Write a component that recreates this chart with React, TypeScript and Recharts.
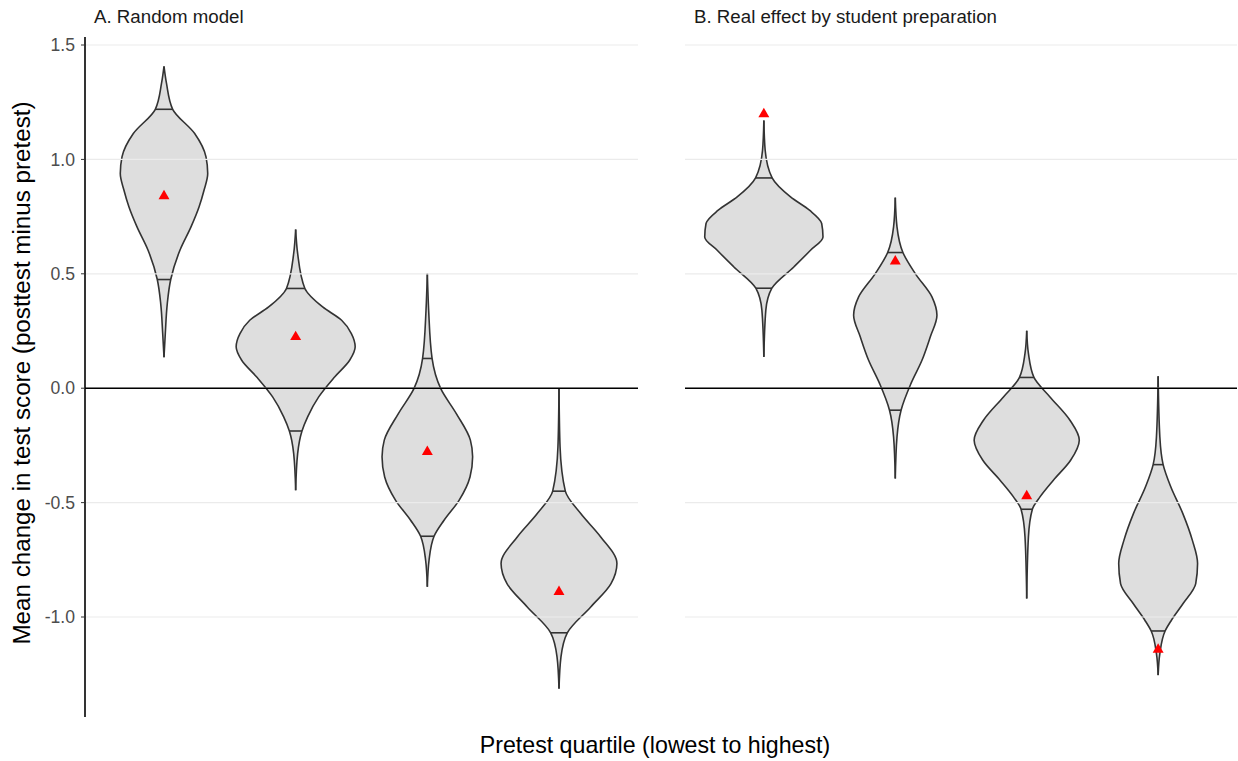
import React from "react"
import { ComposedChart, Area, Scatter, XAxis, YAxis, ZAxis, ReferenceLine } from "recharts"

const quartiles = [1, 2, 3, 4]
const yTicks = [-1, -0.5, 0, 0.5, 1, 1.5]

// violin outlines: [score change, half width in quartile units]
const randomQ1 = [[1.407, 0], [1.332, 0.019], [1.219, 0.066], [1.113, 0.233], [1.011, 0.319], [0.938, 0.332], [0.865, 0.304], [0.792, 0.266], [0.705, 0.205], [0.603, 0.121], [0.475, 0.051], [0.37, 0.025], [0.24, 0.01], [0.135, 0]]
const randomQ2 = [[0.694, 0], [0.589, 0.015], [0.436, 0.07], [0.355, 0.205], [0.297, 0.349], [0.239, 0.423], [0.181, 0.452], [0.122, 0.41], [0.049, 0.296], [-0.038, 0.175], [-0.125, 0.091], [-0.187, 0.048], [-0.286, 0.015], [-0.446, 0]]
const randomQ3 = [[0.501, 0], [0.341, 0.01], [0.13, 0.036], [-0.001, 0.101], [-0.111, 0.22], [-0.227, 0.327], [-0.3, 0.344], [-0.388, 0.324], [-0.49, 0.241], [-0.577, 0.127], [-0.647, 0.051], [-0.752, 0.013], [-0.868, 0]]
const randomQ4 = [[-0.003, 0], [-0.256, 0.008], [-0.45, 0.048], [-0.548, 0.165], [-0.65, 0.317], [-0.766, 0.44], [-0.854, 0.395], [-0.956, 0.241], [-1.069, 0.063], [-1.174, 0.015], [-1.313, 0]]

const realQ1 = [[1.17, 0], [1.04, 0.01], [0.919, 0.063], [0.836, 0.203], [0.778, 0.347], [0.72, 0.44], [0.661, 0.45], [0.603, 0.355], [0.53, 0.228], [0.437, 0.061], [0.341, 0.015], [0.137, 0]]
const realQ2 = [[0.833, 0], [0.705, 0.013], [0.593, 0.058], [0.501, 0.152], [0.399, 0.279], [0.319, 0.317], [0.224, 0.266], [0.122, 0.203], [0.02, 0.119], [-0.096, 0.044], [-0.213, 0.013], [-0.395, 0]]
const realQ3 = [[0.251, 0], [0.152, 0.013], [0.047, 0.055], [-0.038, 0.177], [-0.14, 0.329], [-0.227, 0.4], [-0.315, 0.334], [-0.402, 0.203], [-0.475, 0.101], [-0.529, 0.043], [-0.65, 0.013], [-0.919, 0]]
const realQ4 = [[0.052, 0], [-0.213, 0.013], [-0.334, 0.038], [-0.431, 0.096], [-0.548, 0.188], [-0.664, 0.26], [-0.766, 0.3], [-0.854, 0.286], [-0.941, 0.19], [-1.014, 0.101], [-1.061, 0.053], [-1.16, 0.013], [-1.254, 0]]

// quantile lines drawn inside each violin: [score, half width]
const randomQuantiles = [[[1.219, 0.066], [0.475, 0.051]], [[0.436, 0.07], [-0.187, 0.048]], [[0.13, 0.036], [-0.647, 0.051]], [[-0.45, 0.048], [-1.069, 0.063]]]
const realQuantiles = [[[0.919, 0.063], [0.437, 0.061]], [[0.593, 0.058], [-0.096, 0.044]], [[0.047, 0.055], [-0.529, 0.043]], [[-0.334, 0.038], [-1.061, 0.053]]]

// observed change (red triangles)
const randomObserved = [0.84, 0.224, -0.278, -0.89]
const realObserved = [1.198, 0.555, -0.471, -1.142]

const font = '"Liberation Sans", Arial, sans-serif'

function buildRows(profiles: number[][][]) {
  const rows: any[] = []
  profiles.forEach((profile, i) => {
    profile.forEach(([y, w]) => {
      const row: any = { y }
      profiles.forEach((_, j) => {
        row[`v${j}`] = j === i ? [quartiles[i] - w, quartiles[i] + w] : [null, null]
      })
      rows.push(row)
    })
  })
  return rows
}

function Panel({ profiles, quantiles, observed, width, margin, showAxis }: any) {
  const rows = buildRows(profiles)
  const points = observed.map((v: number, i: number) => ({ x: quartiles[i], y: v }))
  return (
    <ComposedChart width={width} height={761} data={rows} layout="vertical" margin={margin}>
      <XAxis type="number" dataKey="x" domain={[0.4, 4.6]} allowDataOverflow hide />
      <YAxis
        type="number"
        dataKey="y"
        domain={[-1.437, 1.535]}
        allowDataOverflow
        ticks={yTicks}
        reversed
        width={showAxis ? 49 : 0}
        tickFormatter={(v: number) => v.toFixed(1)}
        tick={showAxis ? { fill: "#4d4d4d", fontSize: 17.6, fontFamily: font } : false}
        tickLine={showAxis ? { stroke: "#333" } : false}
        tickSize={4}
        tickMargin={6}
        axisLine={showAxis ? { stroke: "#000", strokeWidth: 1.6 } : false}
      />
      <ZAxis range={[52, 52]} />
      {yTicks.map((t) => (
        <ReferenceLine key={`g${t}`} y={t} stroke="#ebebeb" strokeWidth={1.2} />
      ))}
      <ReferenceLine y={0} stroke="#000" strokeWidth={1.6} />
      {profiles.map((_: any, i: number) => (
        <Area
          key={i}
          dataKey={`v${i}`}
          type="monotone"
          fill="#dedede"
          fillOpacity={1}
          stroke="#333"
          strokeWidth={1.6}
          connectNulls
          dot={false}
          activeDot={false}
          isAnimationActive={false}
        />
      ))}
      {quantiles.map((qs: number[][], i: number) =>
        qs.map(([y, w], k) => (
          <ReferenceLine
            key={`q${i}-${k}`}
            segment={[{ x: quartiles[i] - w, y }, { x: quartiles[i] + w, y }]}
            stroke="#333"
            strokeWidth={1.6}
          />
        ))
      )}
      <Scatter data={points} shape="triangle" fill="#ff0000" isAnimationActive={false} />
    </ComposedChart>
  )
}

export default function App() {
  return (
    <div style={{ position: "absolute", left: 0, top: 0, width: 1238, height: 761, background: "#fff", fontFamily: font }}>
      <div style={{ position: "absolute", left: 0, top: 0 }}>
        <Panel
          profiles={[randomQ1, randomQ2, randomQ3, randomQ4]}
          quantiles={randomQuantiles}
          observed={randomObserved}
          width={640}
          margin={{ top: 37, right: 2, bottom: 44, left: 36 }}
          showAxis
        />
      </div>
      <div style={{ position: "absolute", left: 640, top: 0 }}>
        <Panel
          profiles={[realQ1, realQ2, realQ3, realQ4]}
          quantiles={realQuantiles}
          observed={realObserved}
          width={598}
          margin={{ top: 37, right: 1, bottom: 44, left: 45 }}
          showAxis={false}
        />
      </div>
      <div style={{ position: "absolute", left: 94, top: 6, fontSize: 18.7, lineHeight: "22px", color: "#1a1a1a" }}>
        A. Random model
      </div>
      <div style={{ position: "absolute", left: 694, top: 6, fontSize: 18.7, lineHeight: "22px", color: "#1a1a1a" }}>
        B. Real effect by student preparation
      </div>
      <div style={{ position: "absolute", left: 55, width: 1200, top: 731, fontSize: 23.2, lineHeight: "28px", textAlign: "center", color: "#000" }}>
        Pretest quartile (lowest to highest)
      </div>
      <div
        style={{
          position: "absolute",
          left: 22,
          top: 373,
          transform: "translate(-50%, -50%) rotate(-90deg)",
          whiteSpace: "nowrap",
          fontSize: 24.2,
          lineHeight: "28px",
          color: "#000",
        }}
      >
        Mean change in test score (posttest minus pretest)
      </div>
    </div>
  )
}
